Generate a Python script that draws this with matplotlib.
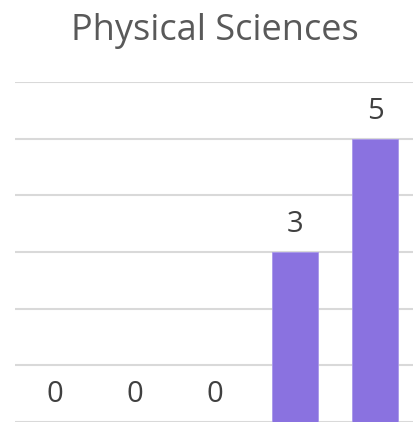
import matplotlib
matplotlib.use("Agg")
import matplotlib.pyplot as plt

categories = ["A", "B", "C", "D", "E"]
values = [0, 0, 0, 3, 5]
title = "Physical Sciences"

bar_color = "#8a72e0"
grid_color = "#d9d9d9"
text_color = "#404040"

plt.rcParams["font.family"] = ["Open Sans", "DejaVu Sans"]

fig = plt.figure(figsize=(4.14, 4.24), dpi=100)
ax = fig.add_axes([15 / 414, 2 / 424, 400 / 414, 340 / 424])

x = range(len(categories))
ax.bar(x, values, width=0.57, color=bar_color, edgecolor="#a897ea", linewidth=0.6, zorder=3)

for xi, v in zip(x, values):
    ax.annotate(f"{v}", (xi, v), xytext=(0, 9), textcoords="offset points",
                ha="center", va="bottom", fontsize=21, color=text_color)

ax.set_xlim(-0.5, len(categories) - 0.5)
ax.set_ylim(0, 6)
ax.set_yticks(range(0, 7))
ax.yaxis.grid(True, color=grid_color, linewidth=1.5, zorder=0)
ax.set_axisbelow(True)
ax.tick_params(left=False, bottom=False, labelleft=False, labelbottom=False)
for s in ax.spines.values():
    s.set_visible(False)

fig.text(215 / 414, 1 - 31 / 424, title, ha="center", va="center", fontsize=26, color="#595959")

fig.savefig("out.png", dpi=100)
